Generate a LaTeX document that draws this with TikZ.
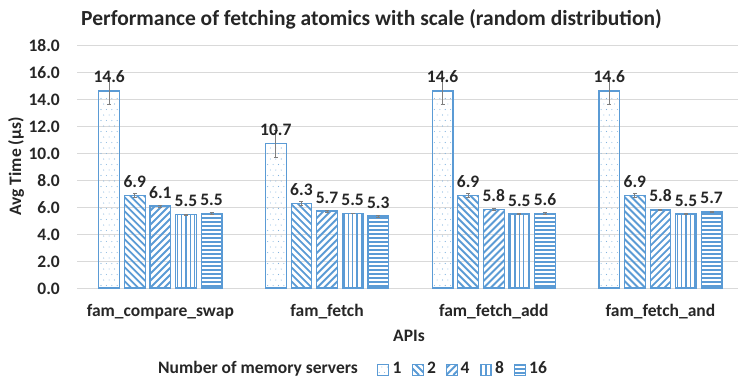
\documentclass[tikz,border=0pt]{standalone}
\usepackage{fontspec}
\setmainfont{Carlito}

\definecolor{barblue}{HTML}{5B9BD5}
\definecolor{barlight}{HTML}{9DC3E6}
\definecolor{gridgray}{HTML}{D9D9D9}
\definecolor{inkgray}{HTML}{262626}
\definecolor{errgray}{HTML}{7F7F7F}

\tikzset{
  gridline/.style={draw=gridgray, line width=1pt},
  stripe/.style={draw=barblue, line width=1.9pt},
  vstripe/.style={draw=barblue, line width=1.3pt},
  dotmark/.style={fill=barblue!75},
  baredge/.style={draw=barblue, line width=1.2pt},
  baredgelight/.style={draw=barlight, line width=1.2pt},
  errbar/.style={draw=errgray, line width=0.9pt},
  ticklabel/.style={font=\fontsize{17.5}{20}\selectfont\bfseries, text=inkgray, inner sep=0pt},
  vallabel/.style={font=\fontsize{17.5}{20}\selectfont\bfseries, text=inkgray, inner sep=0pt, anchor=base},
  catlabel/.style={font=\fontsize{17.5}{20}\selectfont\bfseries, text=inkgray, inner sep=0pt, anchor=base},
  titlelabel/.style={font=\fontsize{21.5}{24}\selectfont\bfseries, text=inkgray, inner sep=0pt, anchor=base},
  leglabel/.style={font=\fontsize{17.5}{20}\selectfont\bfseries, text=inkgray, inner sep=0pt, anchor=base west},
}

% fill patterns; they use \bxl, \bxr, \bty (top) and \bby (bottom)
\newcommand{\famfilldots}{%
  \foreach \j in {0,...,34}{%
    \foreach \i in {0,...,3}{%
      \fill[dotmark] ({\bxl+2.2+\i*5.4+mod(\j,2)*2.7},{\bby-2.5-\j*5.5}) circle (0.55);}}}
\newcommand{\famfillback}{%
  \foreach \k in {0,7,...,238}{\draw[stripe] ({\bxl+\k},\bby) -- ++(-220,-220);}}
\newcommand{\famfillfwd}{%
  \foreach \k in {-217,-210,...,21}{\draw[stripe] ({\bxl+\k},\bby) -- ++(220,-220);}}
\newcommand{\famfillvert}{%
  \foreach \k in {1.6,6.0,...,21}{\draw[vstripe] ({\bxl+\k},\bby) -- ({\bxl+\k},\bty);}}
\newcommand{\famfillhorz}{%
  \foreach \k in {2,6,...,210}{\draw[vstripe] (\bxl,{\bby-\k}) -- (\bxr,{\bby-\k});}}

% one bar: centre x, height, pattern, error, printed value, label name
\newcommand{\fambar}[6]{%
  \pgfmathsetmacro{\bxl}{#1-10.35}%
  \pgfmathsetmacro{\bxr}{#1+10.35}%
  \pgfmathsetmacro{\bty}{288-13.5*#2}%
  \def\bby{288}%
  \begin{scope}
    \clip (\bxl,\bty) rectangle (\bxr,\bby);
    \csname famfill#3\endcsname
  \end{scope}
  \ifx\famdots#3\relax
    \draw[baredgelight] (\bxl,\bty) rectangle (\bxr,\bby);
  \else
    \draw[baredge] (\bxl,\bty) rectangle (\bxr,\bby);
  \fi
  \pgfmathsetmacro{\eup}{\bty-13.5*#4}%
  \pgfmathsetmacro{\edn}{\bty+13.5*#4}%
  \draw[errbar] ({#1-2},\eup) -- ({#1+2},\eup)
                (#1,\eup) -- (#1,\edn)
                ({#1-2},\edn) -- ({#1+2},\edn);
  \node[vallabel] (#6) at (#1,{\bty-8}) {#5};
}
\def\famdots{dots}

% legend swatch: left x, pattern
\newcommand{\famswatch}[2]{%
  \pgfmathsetmacro{\bxl}{#1}%
  \pgfmathsetmacro{\bxr}{#1+11}%
  \def\bty{364}%
  \def\bby{375}%
  \begin{scope}
    \clip (\bxl,\bty) rectangle (\bxr,\bby);
    \csname famfill#2\endcsname
  \end{scope}
  \draw[baredge, line width=1pt] (\bxl,\bty) rectangle (\bxr,\bby);
}

\begin{document}
\begin{tikzpicture}[x=1pt, y=-1pt]
  \path[use as bounding box] (0,0) rectangle (738,378);

  % title
  \node[titlelabel] (title) at (371.5,25) {Performance of fetching atomics with scale (random distribution)};

  % grid and value axis
  \foreach \v/\t in {0/0.0, 2/2.0, 4/4.0, 6/6.0, 8/8.0, 10/10.0, 12/12.0, 14/14.0, 16/16.0, 18/18.0}{
    \draw[gridline] (77,{288-13.5*\v}) -- (738,{288-13.5*\v});
    \node[ticklabel, anchor=base east] (tick\v) at (60,{288-13.5*\v+6.5}) {\t};
  }
  \node[ticklabel, rotate=90] (ytitle) at (16,166.5) {Avg Time (µs)};

  % fam_compare_swap
  \fambar{109.15}{14.6}{dots}{1.0}{14.6}{a1}
  \fambar{134.75}{6.86}{back}{0.15}{6.9}{a2}
  \fambar{160.35}{6.07}{fwd}{0.07}{6.1}{a3}
  \fambar{185.95}{5.44}{vert}{0.03}{5.5}{a4}
  \fambar{211.55}{5.53}{horz}{0.07}{5.5}{a5}
  % fam_fetch
  \fambar{275.85}{10.7}{dots}{1.0}{10.7}{b1}
  \fambar{301.45}{6.24}{back}{0.15}{6.3}{b2}
  \fambar{327.05}{5.70}{fwd}{0.07}{5.7}{b3}
  \fambar{352.65}{5.52}{vert}{0.03}{5.5}{b4}
  \fambar{378.25}{5.33}{horz}{0.07}{5.3}{b5}
  % fam_fetch_add
  \fambar{442.55}{14.6}{dots}{1.0}{14.6}{c1}
  \fambar{468.15}{6.88}{back}{0.15}{6.9}{c2}
  \fambar{493.75}{5.82}{fwd}{0.07}{5.8}{c3}
  \fambar{519.35}{5.48}{vert}{0.03}{5.5}{c4}
  \fambar{544.95}{5.53}{horz}{0.07}{5.6}{c5}
  % fam_fetch_and
  \fambar{609.25}{14.6}{dots}{1.0}{14.6}{d1}
  \fambar{634.85}{6.88}{back}{0.15}{6.9}{d2}
  \fambar{660.45}{5.78}{fwd}{0.07}{5.8}{d3}
  \fambar{686.05}{5.48}{vert}{0.03}{5.5}{d4}
  \fambar{711.65}{5.63}{horz}{0.07}{5.7}{d5}

  % category axis
  \node[catlabel] (cat1) at (160.35,316.5) {fam\_compare\_swap};
  \node[catlabel] (cat2) at (327.05,316.5) {fam\_fetch};
  \node[catlabel] (cat3) at (493.75,316.5) {fam\_fetch\_add};
  \node[catlabel] (cat4) at (660.45,316.5) {fam\_fetch\_and};
  \node[catlabel] (xtitle) at (409,341.5) {APIs};

  % legend
  \node[leglabel] (legtitle) at (158,373.3) {Number of memory servers};
  \famswatch{377}{dots}
  \node[leglabel] (leg1) at (392.5,373.3) {1};
  \famswatch{412}{back}
  \node[leglabel] (leg2) at (427,373.3) {2};
  \famswatch{446.3}{fwd}
  \node[leglabel] (leg4) at (460.5,373.3) {4};
  \famswatch{480}{vert}
  \node[leglabel] (leg8) at (494.8,373.3) {8};
  \famswatch{514.3}{horz}
  \node[leglabel] (leg16) at (529,373.3) {16};
\end{tikzpicture}
\end{document}
